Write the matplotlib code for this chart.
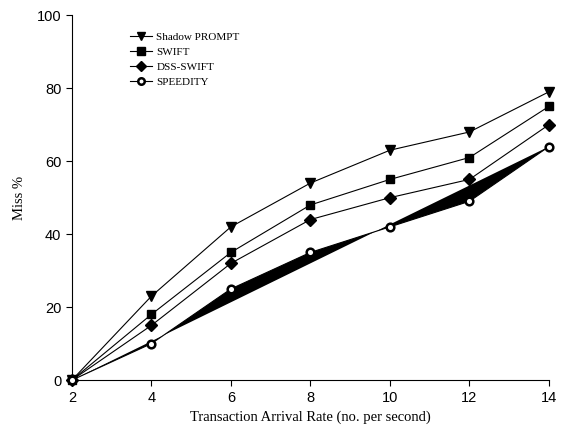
import matplotlib
matplotlib.use("Agg")
import matplotlib.pyplot as plt

rate = [2, 4, 6, 8, 10, 12, 14]
shadow_prompt = [0, 23, 42, 54, 63, 68, 79]
swift = [0, 18, 35, 48, 55, 61, 75]
dss_swift = [0, 15, 32, 44, 50, 55, 70]
speedity = [0, 10, 25, 35, 42, 49, 64]

fig = plt.figure(figsize=(5.84, 4.33), dpi=100)
ax = fig.add_axes([0.123, 0.122, 0.817, 0.843])

ax.plot(rate, shadow_prompt, color='black', lw=0.8, marker='v', ms=7,
        mfc='black', mec='black', label='Shadow PROMPT', clip_on=False)
ax.plot(rate, swift, color='black', lw=0.8, marker='s', ms=6,
        mfc='black', mec='black', label='SWIFT', clip_on=False)
ax.plot(rate, dss_swift, color='black', lw=0.8, marker='D', ms=6,
        mfc='black', mec='black', label='DSS-SWIFT', clip_on=False)
# filled polygon of the SPEEDITY series (as in the original)
ax.fill(rate, speedity, color='black', lw=0)
ax.plot(rate, speedity, color='black', lw=0.8, marker='o', ms=5.5,
        mfc='white', mec='black', mew=1.8, label='SPEEDITY', clip_on=False,
        zorder=5)

ax.set_xlim(2, 14)
ax.set_ylim(0, 100)
ax.set_xticks(rate)
ax.set_yticks([0, 20, 40, 60, 80, 100])
ax.spines['top'].set_visible(False)
ax.spines['right'].set_visible(False)
ax.tick_params(direction='out', length=4, width=0.8, labelsize=10.5)
for lab in ax.get_xticklabels() + ax.get_yticklabels():
    lab.set_fontfamily('Liberation Sans')

ax.set_xlabel('Transaction Arrival Rate (no. per second)',
              fontfamily='Liberation Serif', fontsize=10.5)
ax.set_ylabel('Miss %', fontfamily='Liberation Serif', fontsize=10.5,
              labelpad=8)

leg = ax.legend(loc='upper left', bbox_to_anchor=(0.1, 0.98), frameon=False,
                prop={'family': 'Liberation Serif', 'size': 8},
                handlelength=2.0, labelspacing=0.45, handletextpad=0.4,
                markerscale=0.85)

fig.savefig('out.png', dpi=100)
